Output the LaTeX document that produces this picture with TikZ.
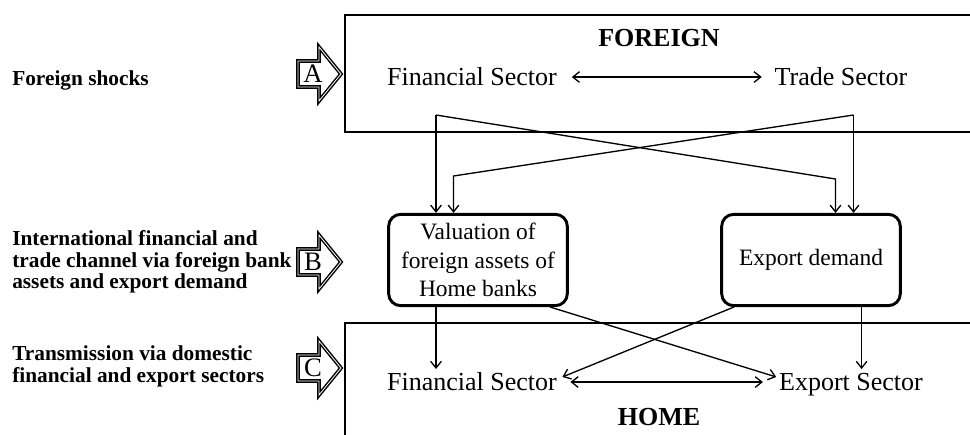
\documentclass[tikz,border=0pt]{standalone}
\usepackage{fontspec}
\setmainfont{Liberation Serif}
\usetikzlibrary{arrows.meta}
\begin{document}
\begin{tikzpicture}[x=0.75pt,y=-0.75pt,
  frame/.style={line width=2.2pt},
  conn/.style={line width=1pt,-{Straight Barb[length=5pt,width=8pt,line width=1pt]}},
  dbl/.style={line width=1pt,{Straight Barb[length=5pt,width=8pt,line width=1pt]}-{Straight Barb[length=5pt,width=8pt,line width=1pt]}},
  sector/.style={inner sep=2pt,text height=14pt,text depth=4.5pt,font=\fontsize{19.5}{22}\selectfont},
  ttl/.style={inner sep=2pt,font=\bfseries\fontsize{19.5}{22}\selectfont},
  lbl/.style={inner sep=0pt,anchor=west,align=left,font=\bfseries\fontsize{16}{16.3}\selectfont},
  rbox/.style={draw,line width=2.2pt,rounded corners=9pt,minimum width=134pt,minimum height=68.5pt,inner sep=0pt,align=center,font=\fontsize{17.6}{21.4}\selectfont},
  blockarr/.style={line width=1.1pt,double,double distance=0.6pt,line join=miter},
  letter/.style={inner sep=0pt,font=\fontsize{20}{22}\selectfont}]
\useasboundingbox (0,0) rectangle (970,435);

% frames
\draw[frame] (980,15) -- (345,15) -- (345,132) -- (980,132);
\draw[frame] (980,323) -- (345,323) -- (345,445);

% foreign
\node[ttl] (foreign) at (659,38) {FOREIGN};
\node[sector] (ffs) at (472,79.3) {Financial Sector};
\node[sector] (fts) at (841,79.3) {Trade Sector};
\draw[dbl,shorten <=9pt,shorten >=7.5pt] ([yshift=1.7pt]ffs.east) -- ([yshift=1.7pt]fts.west);

% middle boxes
\node[rbox] (val) at (478,260) {Valuation of\\foreign assets of\\Home banks};
\node[rbox] (exp) at (811,260) {\raisebox{-2pt}{Export demand}};

% home
\node[sector] (hfs) at (472,384.3) {Financial Sector};
\node[sector] (hes) at (851,384.3) {Export Sector};
\node[ttl] (home) at (659,417) {HOME};
\draw[dbl,shorten <=8pt,shorten >=10pt] ([yshift=1.7pt]hfs.east) -- ([yshift=1.7pt]hes.west);

% foreign -> boxes
\coordinate (fa) at (436,115);
\coordinate (fa2) at (835.5,179);
\coordinate (fb) at (853.5,115);
\coordinate (fb2) at (453.5,176);
\draw[conn] (fa) -- (fa |- val.north);
\draw[conn] (fa) -- (fa2) -- (fa2 |- exp.north);
\draw[conn] (fb) -- (fb |- exp.north);
\draw[conn] (fb) -- (fb2) -- (fb2 |- val.north);

% boxes -> home
\coordinate (va) at (436,307);
\coordinate (vb) at (550,307);
\coordinate (ea) at (734,307);
\coordinate (eb) at (861.6,307);
\draw[conn] (va) -- (va |- hfs.north);
\draw[conn] (vb) -- ([yshift=5.5pt]hes.west);
\draw[conn] (ea) -- ([xshift=2pt,yshift=5.5pt]hfs.east);
\draw[conn] (eb) -- (eb |- hes.north);

% block arrows
\foreach \yy/\lt/\nm in {74/A/arrA, 262/B/arrB, 368/C/arrC}{
  \draw[blockarr] (298,\yy-13) -- (319,\yy-13) -- (319,\yy-27) -- (341,\yy) -- (319,\yy+27) -- (319,\yy+13) -- (298,\yy+13) -- cycle;
  \node[letter] (\nm) at (313,\yy) {\lt};
}

% left labels
\node[lbl] (lA) at (12,80) {Foreign shocks};
\node[lbl] (lB) at (12,262) {International financial and\\trade channel via foreign bank\\assets and export demand};
\node[lbl] (lC) at (12,366) {Transmission via domestic\\financial and export sectors};
\end{tikzpicture}
\end{document}
